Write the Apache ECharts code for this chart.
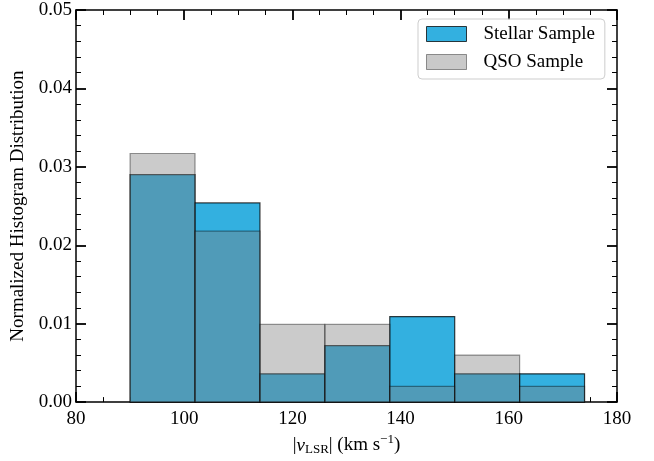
<!DOCTYPE html>
<html>
<head>
<meta charset="utf-8">
<script src="https://cdn.jsdelivr.net/npm/echarts@6/dist/echarts.min.js"></script>
<style>html,body{margin:0;padding:0;background:#fff}#c{width:654px;height:461px}</style>
</head>
<body>
<div id="c"></div>
<script>
const binEdges = [90, 102, 114, 126, 138, 150, 162, 174];
const stellarValues = [0.0290, 0.0254, 0.0036, 0.0072, 0.0109, 0.0036, 0.0036];
const qsoValues = [0.0317, 0.0218, 0.0099, 0.0099, 0.0020, 0.0060, 0.0020];
const xTicks = [80, 100, 120, 140, 160, 180];
const yTicks = [0.00, 0.01, 0.02, 0.03, 0.04, 0.05];
const seriesNames = ['Stellar Sample', 'QSO Sample'];

function binData(vals) {
  return vals.map((v, i) => [binEdges[i], binEdges[i + 1], v]);
}
const FONT = 'Liberation Serif';
const stellarStyle = { fill: 'rgb(51,176,224)', stroke: 'rgba(0,0,0,0.75)', lineWidth: 1.2 };
const qsoStyle = { fill: 'rgba(125,125,125,0.4)', stroke: 'rgba(0,0,0,0.4)', lineWidth: 1.2 };

function makeRender(style) {
  return function (params, api) {
    const p0 = api.coord([api.value(0), api.value(2)]);
    const p1 = api.coord([api.value(1), 0]);
    return {
      type: 'rect',
      shape: { x: p0[0], y: p0[1], width: p1[0] - p0[0], height: p1[1] - p0[1] },
      style: style
    };
  };
}

const axisCommon = {
  type: 'value',
  axisLine: { show: true, onZero: false, lineStyle: { color: '#000', width: 1.5 } },
  axisTick: { show: true, inside: true, length: 10, lineStyle: { color: '#000', width: 1.8 } },
  minorTick: { show: true, length: 5, lineStyle: { color: '#000', width: 1 } },
  splitLine: { show: false },
  minorSplitLine: { show: false }
};

const xMin = xTicks[0], xMax = xTicks[xTicks.length - 1];
const yMin = yTicks[0], yMax = yTicks[yTicks.length - 1];

const chart = echarts.init(document.getElementById('c'));
chart.setOption({
  animation: false,
  grid: { left: 76, right: 37, top: 10, bottom: 54 },
  legend: {
    left: 418, top: 19,
    orient: 'vertical',
    padding: [5, 10, 7, 8],
    itemWidth: 40, itemHeight: 15, itemGap: 8,
    borderColor: 'rgba(200,200,200,0.9)', borderWidth: 1, borderRadius: 4,
    backgroundColor: 'rgba(255,255,255,0.8)',
    textStyle: { fontFamily: FONT, fontSize: 19, color: '#000', lineHeight: 20, padding: [0, 0, 0, 12] },
    data: [
      { name: seriesNames[0], icon: 'rect', itemStyle: { color: 'rgb(51,176,224)', borderColor: 'rgba(0,0,0,0.75)', borderWidth: 1 } },
      { name: seriesNames[1], icon: 'rect', itemStyle: { color: 'rgb(201,201,201)', borderColor: 'rgba(0,0,0,0.4)', borderWidth: 1 } }
    ]
  },
  xAxis: [
    Object.assign({}, axisCommon, {
      min: xMin, max: xMax, interval: 20, position: 'bottom',
      minorTick: Object.assign({}, axisCommon.minorTick, { splitNumber: 4 }),
      axisLabel: { fontFamily: FONT, fontSize: 19, color: '#000', margin: 7 },
      name: '|{i|v}{sub|LSR}| (km s{sup|−1})',
      nameLocation: 'middle', nameGap: 27,
      nameTextStyle: {
        fontFamily: FONT, fontSize: 19, color: '#000',
        rich: {
          i: { fontFamily: FONT, fontSize: 19, fontStyle: 'italic', color: '#000' },
          sub: { fontFamily: FONT, fontSize: 13, color: '#000', padding: [8, 0, 0, 0] },
          sup: { fontFamily: FONT, fontSize: 13, color: '#000', padding: [0, 0, 12, 0] }
        }
      }
    }),
    Object.assign({}, axisCommon, {
      min: xMin, max: xMax, interval: 20, position: 'top',
      minorTick: Object.assign({}, axisCommon.minorTick, { splitNumber: 4 }),
      axisLabel: { show: false }
    })
  ],
  yAxis: [
    Object.assign({}, axisCommon, {
      min: yMin, max: yMax, interval: 0.01, position: 'left',
      minorTick: Object.assign({}, axisCommon.minorTick, { splitNumber: 5 }),
      axisLabel: { fontFamily: FONT, fontSize: 19, color: '#000', margin: 4, formatter: v => v.toFixed(2) },
      name: 'Normalized Histogram Distribution',
      nameLocation: 'middle', nameGap: 43, nameRotate: 90,
      nameTextStyle: { fontFamily: FONT, fontSize: 19, color: '#000' }
    }),
    Object.assign({}, axisCommon, {
      min: yMin, max: yMax, interval: 0.01, position: 'right',
      minorTick: Object.assign({}, axisCommon.minorTick, { splitNumber: 5 }),
      axisLabel: { show: false }
    })
  ],
  series: [
    {
      name: seriesNames[0], type: 'custom', xAxisIndex: 0, yAxisIndex: 0,
      renderItem: makeRender(stellarStyle),
      encode: { x: [0, 1], y: 2 },
      data: binData(stellarValues), z: 2
    },
    {
      name: seriesNames[1], type: 'custom', xAxisIndex: 0, yAxisIndex: 0,
      renderItem: makeRender(qsoStyle),
      encode: { x: [0, 1], y: 2 },
      data: binData(qsoValues), z: 3
    }
  ]
});
</script>
</body>
</html>
